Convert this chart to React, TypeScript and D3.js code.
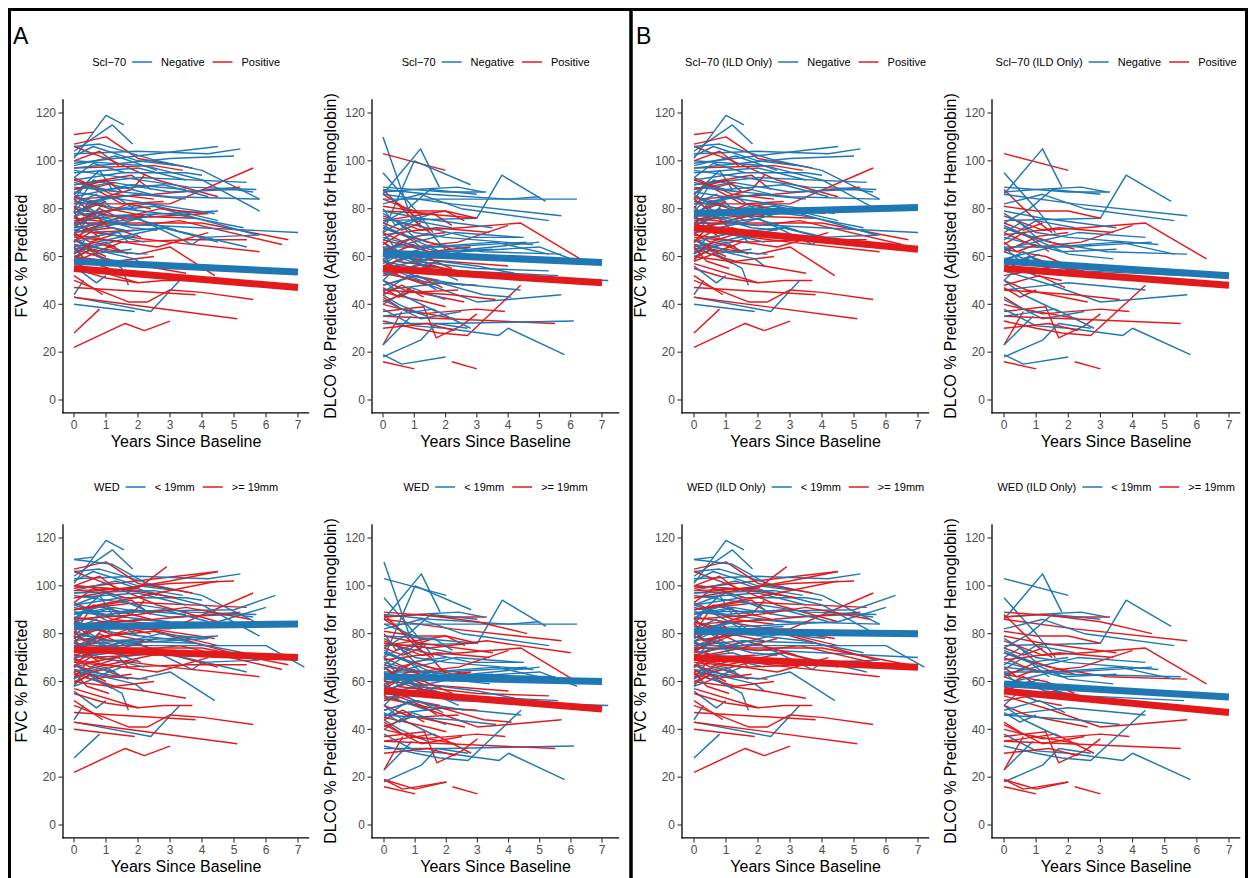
import { useEffect, useRef } from 'react'
import * as d3 from 'd3'

const BLUE = '#1F78B4'
const RED = '#E31A1C'
const FONT = '"Liberation Sans", Arial, Helvetica, sans-serif'

// [scl70 (0 negative, 1 positive, null = not tested), wed (0 < 19mm, 1 >= 19mm), ild (1 / 0), "years value, ..."]
type Rec = [number | null, number, number, string]

const fvcRecords: Rec[] = [
  [0, 0, 1, '0 101,1 119,1.56 115'],
  [0, 0, 1, '0 104,1.2 115,1.83 107'],
  [0, 1, 1, '0 99,4.5 106'],
  [0, 0, 1, '0 103,2 104,4.2 103,5.2 105'],
  [0, 0, 1, '0 106,0.8 107,2.6 100,4 96,5.8 84'],
  [0, 1, 1, '0 97,3 101,5 102'],
  [0, 0, 1, '0 100,2.2 98,4 92,5.8 79'],
  [0, 0, 1, '0 92,1.5 95,3.5 95,4 94'],
  [0, 1, 1, '0 90,2 93,5.4 91'],
  [0, 0, 1, '0 88,1.2 91,3 87,5 88,5.6 87'],
  [0, 0, 0, '0 85,1.8 90,3.5 88'],
  [0, 1, 1, '0 80,0.6 92,2.4 86'],
  [0, 0, 1, '0 78,1 84,2 86,3.5 84'],
  [0, 0, 1, '0 83,1.5 80,3.4 77,5.3 72'],
  [0, 1, 1, '0 75,1 79,2.5 81,5.7 69'],
  [0, 0, 1, '0 74,2.5 73,7 70'],
  [0, 0, 1, '0 72,2 76,3.7 65,4 68,5.8 69'],
  [0, 1, 1, '0 70,1.5 74,2.6 78'],
  [0, 0, 0, '0 68,0.8 73,1.6 71'],
  [0, 0, 1, '0 66,1.2 70,2.8 72,5.4 64'],
  [0, 1, 1, '0 65,0.5 61,1.8 63'],
  [0, 0, 1, '0 63,1 66,1.5 62'],
  [0, 0, 1, '0 60,0.6 63,1.9 59,2.2 56'],
  [0, 1, 1, '0 62,1.2 66,2 69'],
  [0, 0, 1, '0 58,0.3 64,1.5 55,1.7 48'],
  [0, 0, 1, '0 44,0.3 50'],
  [0, 1, 1, '0 40,1.9 37'],
  [0, 0, 1, '0 43,2.4 37,3.3 50'],
  [0, 0, 1, '0 56,0.7 49,1 52'],
  [0, 0, 1, '0 86,0.8 96,1.2 88'],
  [0, 1, 1, '0 93,0.6 99,1.6 95'],
  [0, 0, 1, '0 95,2 97,3.5 92'],
  [0, 0, 1, '0 89,3 85,5.8 84'],
  [0, 1, 1, '0 77,2.3 82,4.5 75'],
  [0, 0, 1, '0 76,0.5 83,1.3 85,2 79'],
  [0, 0, 0, '0 81,1 77,3 78,4.5 79'],
  [0, 1, 1, '0 71,1.6 77,3.2 71'],
  [0, 0, 1, '0 69,0.4 75,0.9 82'],
  [0, 0, 1, '0 84,0.3 89,1.4 87'],
  [0, 0, 1, '0 98,1.3 102,2.6 96'],
  [0, 0, 1, '0 102,0.6 106,2 100,3.2 98'],
  [0, 1, 1, '0 64,2.8 72,4.5 66'],
  [0, 0, 1, '0 79,1.8 72,2.6 71'],
  [0, 1, 1, '0 87,2.4 82,4.4 78'],
  [0, 0, 1, '0 73,0.9 70,2.2 66'],
  [0, 1, 1, '0 67,1.1 62,2.3 61'],
  [0, 0, 1, '0 91,1 88,2.8 90,4.2 85'],
  [0, 0, 1, '0 82,0.7 86,1.2 80'],
  [0, 1, 1, '0 61,0.4 68,1.4 70,1.7 66'],
  [0, 0, 1, '0 96,3.6 89,5.7 88'],
  [0, 0, 1, '0 77,0.5 80,1 76'],
  [0, 1, 1, '0 79,0.4 84,1 81'],
  [0, 0, 1, '0 86,0.5 82,1.1 85'],
  [0, 1, 1, '0 73,0.6 77,1.4 75'],
  [1, 0, 1, '0 111,0.6 112'],
  [1, 1, 1, '0 107,1 110,2 101,3.7 97'],
  [1, 1, 1, '0 106,1.2 100,2.6 92,4.5 85'],
  [1, 0, 1, '0 97,2.5 98,3.4 96'],
  [1, 1, 1, '0 93,1.2 86,2.5 84'],
  [1, 1, 1, '0 90,1.8 94,2.4 88'],
  [1, 0, 1, '0 86,0.4 90,1.5 82,2.8 83'],
  [1, 1, 1, '0 82,3 82,5.6 97'],
  [1, 1, 1, '0 84,2.5 86,5.2 89'],
  [1, 0, 0, '0 80,1.6 76,4.2 78'],
  [1, 1, 1, '0 78,1 85,1.8 88,2.2 94'],
  [1, 1, 1, '0 76,2 73,3.3 75,6.5 65'],
  [1, 0, 1, '0 75,1.5 77,3.8 76'],
  [1, 1, 1, '0 74,4 74,6.7 67'],
  [1, 1, 1, '0 72,0.8 80,1.6 75'],
  [1, 1, 1, '0 71,3 66,5.8 62'],
  [1, 0, 1, '0 70,1.2 72,2.1 68'],
  [1, 1, 1, '0 68,1.5 66,3.6 67,5.4 67'],
  [1, 1, 1, '0 66,0.5 70,1.9 71'],
  [1, 0, 1, '0 65,2 61,3 64,4.4 52'],
  [1, 1, 1, '0 63,1.3 58,2.5 60'],
  [1, 1, 1, '0 62,0.9 65,1.7 61'],
  [1, 1, 1, '0 60,2.2 56,3.5 53'],
  [1, 0, 1, '0 58,0.6 61,1.2 57'],
  [1, 1, 1, '0 57,2 49,2.8 50,3.7 50'],
  [1, 1, 1, '0 55,1 51,2 49'],
  [1, 1, 1, '0 52,0.9 44'],
  [1, 1, 1, '0 50,1.7 41,2.3 41,3 46,4 45,5.6 42'],
  [1, 1, 1, '0 47,1.3 46,3.8 44'],
  [1, 1, 1, '0 43,5.1 34'],
  [1, 0, 1, '0 28,0.8 38'],
  [1, 1, 1, '0 22,1.6 32,2.2 29,3 33'],
  [1, 0, 1, '0 88,1 92,1.5 87'],
  [1, 1, 1, '0 100,0.8 104,1.4 98'],
  [1, 1, 0, '0 79,0.3 71,1 74'],
  [1, 0, 1, '0 77,0.5 73,2.7 80,4.1 78'],
  [1, 1, 1, '0 73,1.7 82,2.4 80'],
  [1, 1, 1, '0 69,2.6 64,4.2 70'],
  [1, 0, 1, '0 67,0.7 62,1.5 66'],
  [1, 1, 1, '0 85,1.1 80,2.2 77'],
  [1, 1, 1, '0 64,0.4 58,1.1 55'],
  [1, 1, 1, '0 81,0.3 77,0.9 79'],
  [1, 0, 1, '0 74,0.6 78,1.1 72'],
  [1, 1, 1, '0 70,0.5 66,1.2 69'],
  [1, 1, 1, '0 66,0.4 72,0.8 68'],
  [1, 0, 1, '0 61,0.6 66,1.3 64'],
  [1, 1, 1, '0 84,0.4 80,1 83'],
  [1, 1, 1, '0 59,0.5 63,1 60'],
  [1, 0, 1, '0 92,0.7 89,1.3 91'],
  [null, 1, 1, '0 98,2 99,2.9 108'],
  [null, 0, 1, '0 111,1.2 109,2.4 100'],
  [null, 0, 1, '0 89,5 90,6.3 96'],
  [null, 0, 1, '0 82,4.5 85,6 91'],
  [null, 1, 1, '0 95,3 102,4.5 106'],
  [null, 1, 1, '0 90,4.5 102'],
  [null, 0, 1, '0 75,6 75,7.2 66'],
  [null, 1, 1, '0 100,1.8 98,3.2 95'],
  [null, 1, 1, '0 86,2 88,3.5 91,5.5 86'],
  [null, 0, 1, '0 92,1 97,2.2 90'],
]

const dlcoRecords: Rec[] = [
  [0, 0, 0, '0 110,0.8 80,1.2 72'],
  [0, 0, 1, '0 95,1 80,1.6 70'],
  [0, 0, 1, '0 86,1.2 105,1.8 89'],
  [0, 0, 0, '0 70,1 100,2.8 90'],
  [0, 0, 1, '0 75,3 76,3.8 94,5.2 83'],
  [0, 0, 0, '0 84,2.5 84,6.2 84'],
  [0, 1, 1, '0 89,2 87,3.3 87'],
  [0, 0, 0, '0 88,1.5 86,4 84,5 85'],
  [0, 1, 1, '0 86,2.2 82,5.7 77'],
  [0, 0, 1, '0 82,1.2 86,2.5 80,5.3 75'],
  [0, 1, 0, '0 80,0.4 73,1.6 78'],
  [0, 0, 1, '0 78,1 70,2 68,4.8 65'],
  [0, 0, 0, '0 76,2.8 68,4.5 68'],
  [0, 1, 1, '0 72,1.4 66,3.2 62,5.7 61'],
  [0, 0, 0, '0 70,0.6 60,2 62,5 66'],
  [0, 0, 1, '0 68,1.8 62,3.5 63'],
  [0, 1, 0, '0 66,1 58,3 55,5.3 54'],
  [0, 0, 1, '0 64,2 64,4.6 66'],
  [0, 0, 1, '0 62,1.3 56,2.5 54,5.6 52'],
  [0, 1, 0, '0 60,0.5 66,1.5 70,2.2 60'],
  [0, 0, 0, '0 58,2.2 52,7.2 50'],
  [0, 0, 1, '0 56,0.8 60,1.6 53'],
  [0, 1, 1, '0 54,1.5 48,3 41,4 42,5.7 44'],
  [0, 0, 0, '0 52,1.2 57,2.4 50'],
  [0, 0, 1, '0 50,0.6 44,1.7 37'],
  [0, 1, 0, '0 48,1 52,3.2 44,4.1 43'],
  [0, 0, 1, '0 46,2 49,4.4 46'],
  [0, 0, 0, '0 44,0.5 40,1.4 35'],
  [0, 1, 1, '0 42,1.2 34,2.5 37'],
  [0, 0, 0, '0 40,0.9 47,2 42'],
  [0, 0, 1, '0 38,1 31,2 30,3.7 27,4 30,5.8 19'],
  [0, 0, 0, '0 32,2 32,6.1 33'],
  [0, 1, 1, '0 35,1.6 38,2.8 30'],
  [0, 1, 1, '0 19,0.6 15,2 18'],
  [0, 0, 1, '0 18,1.2 25,1.7 32,2.7 30'],
  [0, 0, 1, '0 23,0.9 35'],
  [0, 0, 1, '0 74,0.8 80,1.5 88,3 86'],
  [0, 1, 1, '0 79,1.2 76,3.5 72'],
  [0, 0, 1, '0 63,2.3 70,4.4 68'],
  [0, 0, 1, '0 59,1.5 64,3.6 66,5.3 61'],
  [0, 1, 0, '0 57,0.7 62,1.4 58'],
  [0, 0, 0, '0 53,1.8 58,3 56,4.2 53'],
  [0, 0, 1, '0 67,1 75,2.2 72'],
  [0, 1, 0, '0 61,0.4 54,1.2 50,1.7 46'],
  [0, 0, 0, '0 45,0.8 52,2.6 48'],
  [0, 0, 1, '0 73,2 61,3.4 59'],
  [0, 0, 1, '0 87,1 88,2.4 89,3.2 87'],
  [0, 0, 0, '0 55,2.5 62,5 64,6.2 58'],
  [0, 0, 1, '0 70,0.5 74,1 68'],
  [0, 1, 1, '0 58,0.6 62,1.2 57'],
  [0, 0, 1, '0 64,0.5 58,1.1 61'],
  [0, 0, 1, '0 50,0.4 55,1 52'],
  [1, 0, 1, '0 103,2 96'],
  [1, 1, 1, '0 88,1 75,1.5 70'],
  [1, 1, 0, '0 86,0.5 82,1.3 74'],
  [1, 1, 1, '0 81,1 79,2 79,3 76'],
  [1, 0, 0, '0 79,1.6 78,2.2 73'],
  [1, 1, 1, '0 77,1.2 71,2.5 72,4.4 74,6.3 59'],
  [1, 1, 0, '0 75,2 79,2.6 75'],
  [1, 0, 1, '0 72,0.8 68,2 70'],
  [1, 1, 1, '0 70,1 64,2.4 66,4 73'],
  [1, 1, 0, '0 67,1.5 62,2.8 64'],
  [1, 0, 1, '0 65,0.6 70,1.4 62'],
  [1, 1, 1, '0 63,1.3 60,2.2 55'],
  [1, 1, 0, '0 60,2 58,4 56'],
  [1, 1, 1, '0 58,1 52,1.8 50'],
  [1, 0, 1, '0 56,0.8 60,2.1 54'],
  [1, 1, 0, '0 53,1.5 49,3 48'],
  [1, 1, 1, '0 50,0.7 46,2.6 41'],
  [1, 0, 1, '0 48,1.1 52,1.9 47'],
  [1, 1, 0, '0 45,1.4 41,2 39'],
  [1, 1, 1, '0 43,0.6 38,2.3 34'],
  [1, 1, 1, '0 40,1.2 36,3 38,3.9 37'],
  [1, 1, 1, '0 37,1.3 39,1.7 26,2.5 31,3 36'],
  [1, 1, 1, '0 35,2 34,5.5 32'],
  [1, 0, 1, '0 33,1 30,1.8 28,2.7 27,4.4 48'],
  [1, 1, 1, '0 23,0.6 37'],
  [1, 1, 1, '0 16,1 13'],
  [1, 1, 1, '2.2 16,3 13'],
  [1, 0, 0, '0 84,1.2 78,3 76'],
  [1, 1, 1, '0 62,1 68,2.2 63'],
  [1, 1, 0, '0 54,0.4 58,1.6 56'],
  [1, 0, 1, '0 46,2.2 44,3.6 42'],
  [1, 1, 0, '0 41,0.8 45,2.4 46'],
  [1, 1, 1, '0 69,1.7 72,3.4 70'],
  [1, 0, 0, '0 59,0.5 52,1.4 48'],
  [1, 1, 1, '0 52,1.6 56,3.1 52'],
  [1, 1, 1, '0 30,1.4 32,2.3 29'],
  [1, 1, 1, '0 66,0.4 62,1 65'],
  [1, 0, 1, '0 47,0.5 43,1 46'],
  [1, 1, 1, '0 74,0.6 71,1.2 74'],
  [1, 1, 0, '0 44,0.6 48,1.3 43'],
  [null, 1, 1, '0 87,1.2 88,3 85,4.6 80'],
  [null, 1, 0, '0 76,1.5 74,3.3 77,6 72'],
  [null, 0, 1, '0 66,2 63,5.5 62'],
  [null, 1, 1, '0 19,1 15,2 18'],
]

const xTicks = [0, 1, 2, 3, 4, 5, 6, 7]
const yTicks = [0, 20, 40, 60, 80, 100, 120]

// fitted group trends, value at year 0 and year 7: [blue group, red group]
const trendA1 = [[58, 53.5], [55, 47]]
const trendA2 = [[61.5, 57.5], [55, 49]]
const trendA3 = [[83, 84], [73.5, 70]]
const trendA4 = [[62, 60], [56, 48.5]]
const trendB1 = [[78, 80.5], [72, 63]]
const trendB2 = [[58, 52], [55, 48]]
const trendB3 = [[81, 80], [70, 66]]
const trendB4 = [[59, 53.5], [56, 47]]

const sclLabels = ['Negative', 'Positive']
const wedLabels = ['< 19mm', '>= 19mm']

const FVC_LABEL = 'FVC % Predicted'
const DLCO_LABEL = 'DLCO % Predicted (Adjusted for Hemoglobin)'

const plots = [
  { measure: 'fvc', by: 'scl', ild: false, row: 0, left: 63, x0: 74, x7: 298, xEnd: 7.35, trend: trendA1, title: 'Scl−70' },
  { measure: 'dlco', by: 'scl', ild: false, row: 0, left: 372, x0: 383, x7: 602, xEnd: 7.55, trend: trendA2, title: 'Scl−70' },
  { measure: 'fvc', by: 'wed', ild: false, row: 1, left: 63, x0: 74, x7: 298, xEnd: 7.35, trend: trendA3, title: 'WED' },
  { measure: 'dlco', by: 'wed', ild: false, row: 1, left: 372, x0: 384, x7: 602, xEnd: 7.55, trend: trendA4, title: 'WED' },
  { measure: 'fvc', by: 'scl', ild: true, row: 0, left: 682, x0: 694, x7: 918, xEnd: 7.35, trend: trendB1, title: 'Scl−70 (ILD Only)' },
  { measure: 'dlco', by: 'scl', ild: true, row: 0, left: 992, x0: 1004, x7: 1229, xEnd: 7.35, trend: trendB2, title: 'Scl−70 (ILD Only)' },
  { measure: 'fvc', by: 'wed', ild: true, row: 1, left: 682, x0: 694, x7: 918, xEnd: 7.35, trend: trendB3, title: 'WED (ILD Only)' },
  { measure: 'dlco', by: 'wed', ild: true, row: 1, left: 992, x0: 1004, x7: 1229, xEnd: 7.35, trend: trendB4, title: 'WED (ILD Only)' },
]

const parsePts = (s: string) => s.split(',').map(p => p.trim().split(' ').map(Number) as [number, number])

function interleave<T>(a: T[], b: T[]) {
  const out: T[] = []
  for (let i = 0; i < Math.max(a.length, b.length); i++) {
    if (a[i]) out.push(a[i])
    if (b[i]) out.push(b[i])
  }
  return out
}

export default function App() {
  const svgRef = useRef<SVGSVGElement>(null)

  useEffect(() => {
    document.body.style.margin = '0'
    const svg = d3.select(svgRef.current)
    svg.selectAll('*').remove()

    svg.append('rect').attr('width', 1253).attr('height', 878).attr('fill', '#fff')

    plots.forEach(p => {
      const off = p.row * 425
      const x = d3.scaleLinear().domain([0, 7]).range([p.x0, p.x7])
      const y = d3.scaleLinear().domain([0, 120]).range([400 + off, 113 + off])
      const axisY = y(-5.4)
      const topY = y(125.8)
      const right = x(p.xEnd)
      const g = svg.append('g')

      const recs = (p.measure === 'fvc' ? fvcRecords : dlcoRecords)
        .filter(r => (!p.ild || r[2] === 1) && (p.by === 'wed' || r[0] !== null))
      const grp = (r: Rec) => (p.by === 'scl' ? r[0] : r[1])
      const ordered = interleave(recs.filter(r => grp(r) === 0), recs.filter(r => grp(r) === 1))

      const line = d3.line<[number, number]>().x(d => x(d[0])).y(d => y(d[1]))

      g.append('g')
        .selectAll('path')
        .data(ordered)
        .join('path')
        .attr('d', r => line(parsePts(r[3])))
        .attr('fill', 'none')
        .attr('stroke', r => (grp(r) === 0 ? BLUE : RED))
        .attr('stroke-width', 1.45)
        .attr('stroke-linejoin', 'round')

      g.append('g')
        .selectAll('path')
        .data(p.trend)
        .join('path')
        .attr('d', t => line([[0, t[0]], [7, t[1]]]))
        .attr('stroke', (_, i) => (i === 0 ? BLUE : RED))
        .attr('stroke-width', 7)
        .attr('fill', 'none')

      // axes
      g.append('line').attr('x1', p.left).attr('x2', p.left).attr('y1', topY).attr('y2', axisY + 0.6)
        .attr('stroke', '#000').attr('stroke-width', 1.3)
      g.append('line').attr('x1', p.left - 0.6).attr('x2', right).attr('y1', axisY).attr('y2', axisY)
        .attr('stroke', '#000').attr('stroke-width', 1.3)

      yTicks.forEach(v => {
        g.append('line').attr('x1', p.left - 4.5).attr('x2', p.left).attr('y1', y(v)).attr('y2', y(v))
          .attr('stroke', '#333').attr('stroke-width', 1.1)
        g.append('text').attr('x', p.left - 7).attr('y', y(v)).attr('dy', '0.36em')
          .attr('text-anchor', 'end').attr('font-size', 12).attr('fill', '#4D4D4D')
          .attr('font-family', FONT).text(v)
      })
      xTicks.forEach(v => {
        g.append('line').attr('x1', x(v)).attr('x2', x(v)).attr('y1', axisY).attr('y2', axisY + 4.5)
          .attr('stroke', '#333').attr('stroke-width', 1.1)
        g.append('text').attr('x', x(v)).attr('y', axisY + 16)
          .attr('text-anchor', 'middle').attr('font-size', 12).attr('fill', '#4D4D4D')
          .attr('font-family', FONT).text(v)
      })

      const cx = (p.left + right) / 2
      g.append('text').attr('x', cx).attr('y', axisY + 34)
        .attr('text-anchor', 'middle').attr('font-size', 16).attr('font-family', FONT)
        .text('Years Since Baseline')
      g.append('text')
        .attr('transform', `translate(${p.left - 36},${(topY + axisY) / 2}) rotate(-90)`)
        .attr('text-anchor', 'middle').attr('font-size', 16).attr('font-family', FONT)
        .text(p.measure === 'fvc' ? FVC_LABEL : DLCO_LABEL)

      // legend
      const labels = p.by === 'scl' ? sclLabels : wedLabels
      const lg = g.append('g')
      const ly = 62 + off
      let cur = 0
      const addText = (s: string) => {
        const t = lg.append('text').attr('x', cur).attr('y', ly).attr('dy', '0.36em')
          .attr('font-size', 11).attr('font-family', FONT).text(s)
        cur += (t.node() as SVGTextElement).getComputedTextLength()
      }
      const addKey = (c: string) => {
        lg.append('line').attr('x1', cur).attr('x2', cur + 20).attr('y1', ly).attr('y2', ly)
          .attr('stroke', c).attr('stroke-width', 1.5)
        cur += 20
      }
      addText(p.title)
      cur += 6
      addKey(BLUE)
      cur += 9
      addText(labels[0])
      cur += 8
      addKey(RED)
      cur += 9
      addText(labels[1])
      lg.attr('transform', `translate(${cx - cur / 2},0)`)
    })

    // panel frames
    svg.append('rect').attr('x', 9.5).attr('y', 9.5).attr('width', 621.5).attr('height', 880)
      .attr('fill', 'none').attr('stroke', '#000').attr('stroke-width', 3)
    svg.append('rect').attr('x', 631).attr('y', 9.5).attr('width', 615.5).attr('height', 880)
      .attr('fill', 'none').attr('stroke', '#000').attr('stroke-width', 3)
    svg.append('text').attr('x', 13).attr('y', 44).attr('font-size', 23).attr('font-family', FONT).text('A')
    svg.append('text').attr('x', 636).attr('y', 44).attr('font-size', 23).attr('font-family', FONT).text('B')
  }, [])

  return <svg ref={svgRef} width={1253} height={878} style={{ display: 'block' }} />
}
